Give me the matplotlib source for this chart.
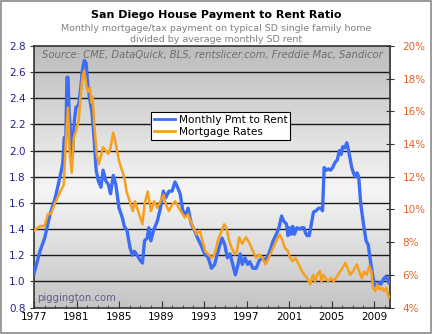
import numpy as np
import matplotlib
matplotlib.use("Agg")
import matplotlib.pyplot as plt
from matplotlib.lines import Line2D
from matplotlib.patches import Rectangle

# Monthly payment / rent ratio (left axis)
ratio_years = [1977.0, 1977.56, 1978.0, 1978.5, 1979.0, 1979.45, 1979.7, 1979.85, 1980.0,
               1980.1, 1980.2, 1980.3, 1980.6, 1980.8, 1980.95, 1981.2, 1981.4, 1981.55,
               1981.73, 1981.9, 1982.05, 1982.27, 1982.45, 1982.65, 1982.85, 1983.05,
               1983.3, 1983.5, 1983.75, 1984.0, 1984.2, 1984.46, 1984.7, 1985.0, 1985.3,
               1985.5, 1985.75, 1986.03, 1986.25, 1986.45, 1986.7, 1987.0, 1987.2, 1987.4,
               1987.65, 1987.8, 1988.0, 1988.25, 1988.6, 1988.9, 1989.17, 1989.4, 1989.7,
               1990.0, 1990.27, 1990.5, 1990.75, 1991.0, 1991.3, 1991.5, 1991.8, 1992.1,
               1992.4, 1992.7, 1993.06, 1993.4, 1993.7, 1994.0, 1994.25, 1994.5, 1994.7,
               1994.95, 1995.2, 1995.45, 1995.7, 1995.95, 1996.2, 1996.4, 1996.6, 1996.85,
               1997.1, 1997.3, 1997.6, 1997.9, 1998.2, 1998.5, 1998.8, 1999.1, 1999.5,
               1999.8, 2000.05, 2000.3, 2000.5, 2000.75, 2000.9, 2001.05, 2001.2, 2001.35,
               2001.5, 2001.75, 2002.0, 2002.2, 2002.4, 2002.55, 2002.7, 2002.9, 2003.3,
               2003.54, 2003.8, 2004.0, 2004.15, 2004.3, 2004.5, 2004.7, 2004.9, 2005.1,
               2005.33, 2005.55, 2005.73, 2005.9, 2006.05, 2006.25, 2006.43, 2006.6, 2006.9,
               2007.1, 2007.25, 2007.4, 2007.55, 2007.75, 2008.0, 2008.25, 2008.45, 2008.65,
               2008.9, 2009.05, 2009.25, 2009.45, 2009.65, 2009.9, 2010.15, 2010.4]
ratio_vals = [1.06, 1.23, 1.33, 1.51, 1.64, 1.80, 1.90, 2.10, 2.10,
              2.56, 2.56, 2.30, 1.95, 2.23, 2.33, 2.35, 2.48, 2.61,
              2.69, 2.67, 2.51, 2.38, 2.30, 2.10, 1.85, 1.77,
              1.72, 1.85, 1.77, 1.74, 1.67, 1.81, 1.74, 1.56, 1.49,
              1.42, 1.39, 1.26, 1.20, 1.23, 1.20, 1.16, 1.14, 1.31,
              1.33, 1.41, 1.31, 1.39, 1.46, 1.56, 1.69, 1.64, 1.69,
              1.69, 1.76, 1.72, 1.67, 1.54, 1.51, 1.56, 1.44, 1.39,
              1.33, 1.28, 1.21, 1.18, 1.10, 1.13, 1.21, 1.28, 1.33,
              1.28, 1.18, 1.21, 1.13, 1.05, 1.13, 1.21, 1.13, 1.18,
              1.13, 1.15, 1.10, 1.10, 1.16, 1.18, 1.16, 1.21, 1.31,
              1.36, 1.41, 1.50, 1.46, 1.44, 1.35, 1.41, 1.36, 1.42,
              1.36, 1.41, 1.40, 1.41, 1.41, 1.37, 1.35, 1.35, 1.53,
              1.54, 1.56, 1.56, 1.54, 1.87, 1.85, 1.86, 1.85, 1.87,
              1.91, 1.93, 2.00, 1.97, 2.03, 2.02, 2.06, 2.00, 1.87,
              1.82, 1.80, 1.83, 1.80, 1.59, 1.44, 1.31, 1.28, 1.16,
              1.03, 0.97, 0.96, 0.99, 0.98, 1.02, 1.04, 0.99]

# 30-year mortgage rate in percent (right axis)
rate_years = [1977.0, 1977.56, 1978.0, 1978.3, 1978.6, 1979.0, 1979.5, 1979.8, 1980.0,
              1980.2, 1980.35, 1980.55, 1980.75, 1980.95, 1981.2, 1981.35, 1981.55,
              1981.73, 1981.95, 1982.1, 1982.27, 1982.4, 1982.5, 1982.7, 1982.9, 1983.1,
              1983.5, 1983.75, 1984.0, 1984.2, 1984.46, 1984.7, 1985.0, 1985.3, 1985.5,
              1985.7, 1986.0, 1986.3, 1986.5, 1986.7, 1987.0, 1987.2, 1987.4, 1987.7,
              1987.85, 1988.0, 1988.3, 1988.6, 1988.9, 1989.2, 1989.4, 1989.7, 1990.0,
              1990.3, 1990.55, 1990.8, 1991.2, 1991.5, 1991.85, 1992.3, 1992.6, 1992.85,
              1993.1, 1993.4, 1993.7, 1994.0, 1994.3, 1994.55, 1994.9, 1995.1, 1995.35,
              1995.6, 1995.9, 1996.1, 1996.3, 1996.6, 1996.95, 1997.3, 1997.6, 1997.9,
              1998.2, 1998.5, 1998.8, 1999.1, 1999.5, 1999.8, 2000.1, 2000.35, 2000.6,
              2000.9, 2001.1, 2001.35, 2001.6, 2001.9, 2002.2, 2002.45, 2002.7, 2003.0,
              2003.25, 2003.45, 2003.65, 2003.9, 2004.05, 2004.2, 2004.45, 2004.7,
              2004.95, 2005.2, 2005.6, 2005.8, 2006.05, 2006.3, 2006.5, 2006.75, 2007.0,
              2007.4, 2007.6, 2007.85, 2008.05, 2008.3, 2008.55, 2008.75, 2008.9,
              2009.1, 2009.3, 2009.5, 2009.75, 2009.95, 2010.15, 2010.4]
rate_vals = [8.7, 8.98, 8.98, 9.7, 9.75, 10.42, 11.13, 11.5, 14.2,
             16.24, 13.58, 12.25, 14.4, 14.8, 15.42, 16.65, 18.08,
             18.49, 17.47, 17.2, 17.47, 16.55, 16.9, 15.0, 13.38, 12.77,
             13.8, 13.6, 13.4, 13.8, 14.7, 14.0, 12.97, 12.35, 11.95,
             11.13, 10.5, 9.9, 10.5, 10.1, 9.5, 9.1, 10.3, 11.1,
             10.5, 9.9, 10.5, 10.1, 10.5, 10.9, 10.3, 9.9, 10.3,
             10.5, 10.2, 9.9, 9.5, 9.7, 9.1, 8.47, 8.7, 8.1,
             7.45, 7.25, 7.04, 7.25, 8.1, 8.5, 9.09, 8.9, 8.1,
             7.65, 7.25, 7.45, 8.3, 7.9, 8.3, 7.9, 7.45, 7.04,
             7.25, 7.04, 6.64, 7.04, 7.65, 8.06, 8.47, 8.16, 7.65,
             7.45, 7.04, 6.84, 7.04, 6.64, 6.23, 6.0, 5.8, 5.41,
             6.0, 5.6, 6.0, 6.23, 5.6, 6.0, 5.8, 5.6,
             5.8, 5.6, 6.0, 6.2, 6.43, 6.74, 6.43, 6.0, 6.2,
             6.64, 6.2, 5.8, 6.2, 6.0, 6.54, 6.2, 5.2,
             5.0, 5.4, 5.1, 5.2, 5.0, 5.2, 4.6]

ratio_ticks = [0.8, 1.0, 1.2, 1.4, 1.6, 1.8, 2.0, 2.2, 2.4, 2.6, 2.8]
rate_ticks = [4, 6, 8, 10, 12, 14, 16, 18, 20]
year_ticks = [1977, 1981, 1985, 1989, 1993, 1997, 2001, 2005, 2009]

blue = "#3d6cf5"
orange = "#f5a01e"
navy = "#22228a"
rust = "#e4642c"

fig = plt.figure(figsize=(4.32, 3.34), dpi=100)
fig.patch.set_facecolor("white")
fig.patches.append(Rectangle((0.002, 0.003), 0.995, 0.994, transform=fig.transFigure,
                             fill=False, edgecolor="#8a8a8a", linewidth=1.2))

ax = fig.add_axes([0.0787, 0.0793, 0.8241, 0.783])
ax.set_xlim(1977, 2010.5)
ax.set_ylim(0.8, 2.8)

# vertical gray gradient behind the data
pos = np.linspace(0, 1, 256)
shade = np.interp(pos, [0, 0.45, 1], [0.77, 0.96, 0.74])
grad = np.dstack([shade, shade, shade])[:, None, :].reshape(256, 1, 3)
ax.imshow(grad, extent=[1977, 2010.5, 0.8, 2.8], origin="lower", aspect="auto", zorder=0)

for v in ratio_ticks[1:-1]:
    ax.axhline(v, color="#1a1a1a", linewidth=1.0, zorder=1)

ax.plot(ratio_years, ratio_vals, color=blue, linewidth=2.4, zorder=3, solid_joinstyle="round")

ax.set_yticks(ratio_ticks)
ax.set_yticklabels([f"{v:.1f}" for v in ratio_ticks], color=navy, fontsize=7.5)
ax.set_xticks(year_ticks)
ax.set_xticks(range(1977, 2011), minor=True)
ax.set_xticklabels([str(y) for y in year_ticks], fontsize=7.5)
ax.tick_params(axis="y", direction="out", length=3, color="#333333", pad=3)
ax.tick_params(axis="x", which="major", direction="in", length=5, color="#333333", pad=3)
ax.tick_params(axis="x", which="minor", direction="in", length=2.5, color="#333333")
for s in ax.spines.values():
    s.set_color("#333333")
    s.set_linewidth(1.2)

ax2 = ax.twinx()
ax2.set_ylim(4, 20)
ax2.plot(rate_years, rate_vals, color=orange, linewidth=1.8, zorder=4, solid_joinstyle="round")
ax2.set_yticks(rate_ticks)
ax2.set_yticklabels([f"{v}%" for v in rate_ticks], color=rust, fontsize=7.5)
ax2.tick_params(axis="y", direction="inout", length=6, color="#333333", pad=6)
for s in ax2.spines.values():
    s.set_visible(False)

handles = [Line2D([], [], color=blue, linewidth=2), Line2D([], [], color=orange, linewidth=2)]
leg = ax2.legend(handles, ["Monthly Pmt to Rent", "Mortgage Rates"], loc="upper left",
                 bbox_to_anchor=(0.329, 0.748), fontsize=7.6, frameon=True, fancybox=False,
                 framealpha=1, handlelength=2.0, handletextpad=0.3, borderpad=0.3,
                 labelspacing=0.2, borderaxespad=0)
leg.get_frame().set_edgecolor("black")
leg.get_frame().set_linewidth(0.8)
leg.set_zorder(10)

fig.text(0.5, 0.955, "San Diego House Payment to Rent Ratio", ha="center", va="center",
         fontsize=8, fontweight="bold")
fig.text(0.5, 0.915, "Monthly mortgage/tax payment on typical SD single family home",
         ha="center", va="center", fontsize=6.8, color="#808080")
fig.text(0.5, 0.883, "divided by average monthly SD rent",
         ha="center", va="center", fontsize=6.8, color="#808080")
ax2.text(0.5, 0.965, "Source: CME, DataQuick, BLS, rentslicer.com, Freddie Mac, Sandicor",
         transform=ax.transAxes, ha="center", va="center", fontsize=7.2,
         style="italic", color="#6e6e6e")
ax2.text(0.01, 0.035, "piggington.com", transform=ax.transAxes, ha="left", va="center",
         fontsize=7.3, color="#5f5f8f")

fig.savefig("out.png", dpi=100)
